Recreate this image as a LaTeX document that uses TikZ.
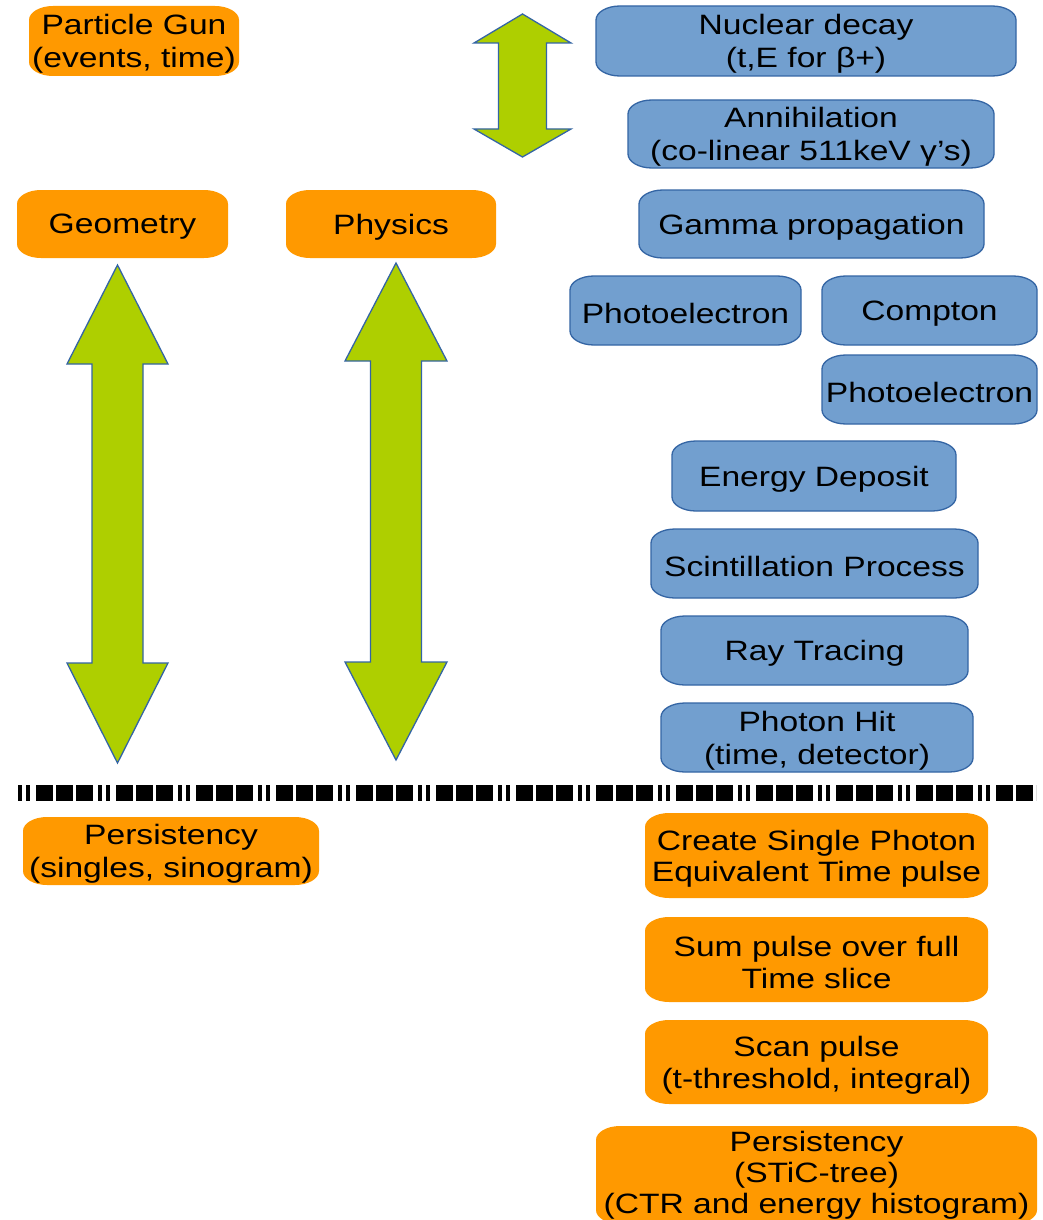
\documentclass[tikz,border=0pt]{standalone}
\usepackage{fontspec}
\setmainfont[FakeStretch=1.2]{Liberation Sans}
\definecolor{orng}{HTML}{FF9900}
\definecolor{skyb}{HTML}{729FCF}
\definecolor{skyd}{HTML}{3465A4}
\definecolor{ygrn}{HTML}{AECF00}
\tikzset{
  obox/.style={fill=orng},
  bbox/.style={fill=skyb,draw=skyd,line width=1.3pt},
  garrow/.style={fill=ygrn,draw=skyd,line width=1.3pt,line join=miter},
  txt/.style={inner sep=0pt,align=center,text=black,yshift=-3pt,font=\fontsize{28}{33}\selectfont},
  txtb/.style={txt,font=\fontsize{28}{31.5}\selectfont},
  txtc/.style={inner sep=0pt,align=center,text=black,yshift=0pt,font=\fontsize{28}{31}\selectfont},
}
% #1 name, #2 x1, #3 y1, #4 x2, #5 y2, #6 shape style, #7 text style, #8 text
\newcommand\rbox[8]{%
  \path[#6] ({#2+24},#3) -- ({#4-24},#3)
    arc[start angle=90,end angle=0,x radius=24pt,y radius=14pt]
    -- (#4,{#5-14})
    arc[start angle=0,end angle=-90,x radius=24pt,y radius=14pt]
    -- ({#2+24},#5)
    arc[start angle=270,end angle=180,x radius=24pt,y radius=14pt]
    -- (#2,{#3+14})
    arc[start angle=180,end angle=90,x radius=24pt,y radius=14pt]
    -- cycle;
  \node[#7] (#1) at ({(#2+#4)/2},{(#3+#5)/2}) {#8};%
}
% double block arrow: #1 x centre, #2 top tip, #3 top head base, #4 bottom head base, #5 bottom tip, #6 head half width, #7 shaft half width
\newcommand\dblarrow[7]{%
  \draw[garrow] (#1,#2) -- ({#1+#6},#3) -- ({#1+#7},#3) -- ({#1+#7},#4)
    -- ({#1+#6},#4) -- (#1,#5) -- ({#1-#6},#4) -- ({#1-#7},#4)
    -- ({#1-#7},#3) -- ({#1-#6},#3) -- cycle;%
}
\begin{document}
\begin{tikzpicture}[x=1pt,y=-1pt]
\useasboundingbox[fill=white] (0,0) rectangle (1043,1220);

% left column
\rbox{pg}{29}{6}{239}{76}{obox}{txt}{Particle Gun\\(events, time)}
\rbox{geo}{17}{190}{228}{258}{obox}{txt}{Geometry}
\rbox{phy}{286}{190}{496}{258}{obox}{txt}{Physics}

% arrows
\dblarrow{522.5}{14}{43}{129}{157}{48.5}{24}
\dblarrow{117.5}{265}{364}{663}{763}{50.5}{25.5}
\dblarrow{396}{263}{361}{662}{760}{51}{25.5}

% blue chain
\rbox{nuc}{596}{6}{1016}{76}{bbox}{txt}{Nuclear decay\\(t,E for β+)}
\rbox{ann}{628}{100}{994}{168}{bbox}{txt}{Annihilation\\(co-linear 511keV γ's)}
\rbox{gam}{639}{190}{984}{258}{bbox}{txt}{Gamma propagation}
\rbox{pe1}{570}{276}{801}{345}{bbox}{txt}{Photoelectron}
\rbox{comp}{822}{276}{1037}{345}{bbox}{txt}{Compton}
\rbox{pe2}{822}{355}{1037}{424}{bbox}{txt}{Photoelectron}
\rbox{edep}{672}{441}{956}{511}{bbox}{txt}{Energy Deposit}
\rbox{scin}{651}{529}{978}{598}{bbox}{txt}{Scintillation Process}
\rbox{ray}{661}{616}{968}{685}{bbox}{txt}{Ray Tracing}
\rbox{phit}{661}{703}{973}{772}{bbox}{txt}{Photon Hit\\(time, detector)}

% separator
\coordinate (sepL) at (18,793);
\coordinate (sepR) at (1036,793);
\draw[line width=16pt,dash pattern=on 4pt off 4pt on 4pt off 6pt on 17pt off 3pt on 17pt off 3pt on 17pt off 5pt] (sepL) -- (sepR);

% bottom part
\rbox{pers1}{23}{817}{319}{885}{obox}{txt}{Persistency\\(singles, sinogram)}
\rbox{csp}{645}{813}{988}{898}{obox}{txtb}{Create Single Photon\\Equivalent Time pulse}
\rbox{sum}{645}{917}{988}{1002}{obox}{txtb}{Sum pulse over full\\Time slice}
\rbox{scan}{645}{1020}{988}{1104}{obox}{txtb}{Scan pulse\\(t-threshold, integral)}
\rbox{pers2}{596}{1126}{1037}{1224}{obox}{txtc}{Persistency\\(STiC-tree)\\(CTR and energy histogram)}
\end{tikzpicture}
\end{document}
